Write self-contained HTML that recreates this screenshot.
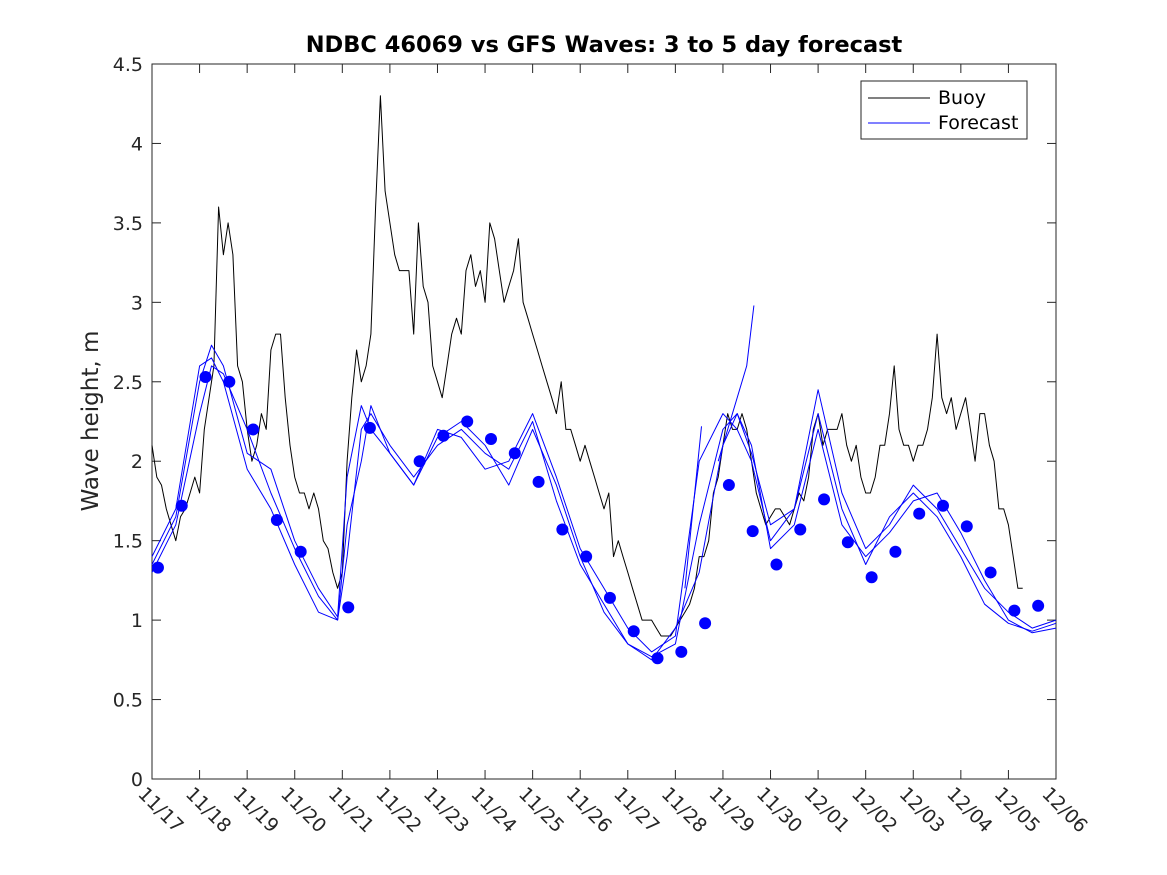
<!DOCTYPE html>
<html><head><meta charset="utf-8"><style>
html,body{margin:0;padding:0;background:#fff;}
svg{display:block;font-family:"DejaVu Sans","Liberation Sans",sans-serif;}
</style></head><body>
<svg id="chart" width="1167" height="875" viewBox="0 0 1167 875" xmlns="http://www.w3.org/2000/svg">
<rect x="0" y="0" width="1167" height="875" fill="#fff"/>
<text x="604" y="52" text-anchor="middle" font-size="22.5" font-weight="bold" fill="#000">NDBC 46069 vs GFS Waves: 3 to 5 day forecast</text>
<text transform="translate(98,421) rotate(-90)" text-anchor="middle" font-size="23" fill="#262626">Wave height, m</text>
<g id="plot"></g>
<g>
<rect x="861" y="81" width="166" height="58" fill="#fff" stroke="#262626" stroke-width="1"/>
<line x1="868" y1="98" x2="930" y2="98" stroke="#000" stroke-width="1"/>
<text x="938" y="104" font-size="19" fill="#000">Buoy</text>
<line x1="868" y1="123" x2="930" y2="123" stroke="#0000ff" stroke-width="1"/>
<text x="938" y="129" font-size="19" fill="#000">Forecast</text>
</g>
</svg>
<script>
const xLabels = ["11/17","11/18","11/19","11/20","11/21","11/22","11/23","11/24","11/25","11/26","11/27","11/28","11/29","11/30","12/01","12/02","12/03","12/04","12/05","12/06"];
const yTicks = [0,0.5,1,1.5,2,2.5,3,3.5,4,4.5];
const yTickLabels = ["0","0.5","1","1.5","2","2.5","3","3.5","4","4.5"];
const buoyStart = 0;
const buoyStep = 0.1;
const buoyValues = [2.1,1.9,1.85,1.7,1.6,1.5,1.65,1.7,1.8,1.9,
1.8,2.2,2.4,2.6,3.6,3.3,3.5,3.3,2.6,2.5,
2.2,2.0,2.1,2.3,2.2,2.7,2.8,2.8,2.4,2.1,
1.9,1.8,1.8,1.7,1.8,1.7,1.5,1.45,1.3,1.2,
1.3,2.0,2.4,2.7,2.5,2.6,2.8,3.6,4.3,3.7,
3.5,3.3,3.2,3.2,3.2,2.8,3.5,3.1,3.0,2.6,
2.5,2.4,2.6,2.8,2.9,2.8,3.2,3.3,3.1,3.2,
3.0,3.5,3.4,3.2,3.0,3.1,3.2,3.4,3.0,2.9,
2.8,2.7,2.6,2.5,2.4,2.3,2.5,2.2,2.2,2.1,
2.0,2.1,2.0,1.9,1.8,1.7,1.8,1.4,1.5,1.4,
1.3,1.2,1.1,1.0,1.0,1.0,0.95,0.9,0.9,0.9,
0.95,1.0,1.05,1.1,1.2,1.4,1.4,1.5,1.8,1.9,
2.1,2.3,2.2,2.2,2.3,2.2,2.0,1.8,1.7,1.6,
1.65,1.7,1.7,1.65,1.6,1.7,1.8,1.75,1.9,2.2,
2.3,2.1,2.2,2.2,2.2,2.3,2.1,2.0,2.1,1.9,
1.8,1.8,1.9,2.1,2.1,2.3,2.6,2.2,2.1,2.1,
2.0,2.1,2.1,2.2,2.4,2.8,2.4,2.3,2.4,2.2,
2.3,2.4,2.2,2.0,2.3,2.3,2.1,2.0,1.7,1.7,
1.6,1.4,1.2,1.2];
const fcTimes = [0,0.5,1,1.25,1.5,2,2.5,3,3.5,3.9,4.1,4.4,4.6,5.0,5.5,6.0,6.5,7.0,7.5,8.0,8.5,9.0,9.5,10.0,10.5,11.0,11.5,12.0,12.3,12.6,13.0,13.5,14.0,14.5,15.0,15.5,16.0,16.5,17.0,17.5,18.0,18.5,19.0];
const fc1 = [1.3,1.6,2.3,2.6,2.55,2.2,1.8,1.45,1.15,1.0,1.4,2.2,2.3,2.1,1.9,2.1,2.2,2.05,1.95,2.25,1.75,1.35,1.1,0.85,0.77,0.85,1.6,2.2,2.3,2.1,1.45,1.6,2.2,1.6,1.4,1.55,1.75,1.8,1.55,1.25,1.0,0.92,0.95];
const fc2 = [1.35,1.65,2.5,2.73,2.6,2.05,1.95,1.5,1.2,1.02,1.9,2.35,2.2,2.05,1.85,2.2,2.15,1.95,2.0,2.3,1.9,1.45,1.2,0.95,0.8,0.9,2.0,2.3,2.2,2.0,1.5,1.7,2.45,1.8,1.45,1.6,1.85,1.7,1.45,1.2,1.05,0.95,1.0];
const fc3 = [1.4,1.7,2.6,2.65,2.5,1.95,1.7,1.35,1.05,1.0,1.6,2.0,2.35,2.05,1.85,2.15,2.25,2.1,1.85,2.2,1.85,1.4,1.05,0.85,0.75,0.95,1.3,2.1,2.3,2.05,1.6,1.7,2.3,1.7,1.35,1.65,1.8,1.65,1.4,1.1,0.98,0.93,0.98];
const spikeATimes = [11.9,12.5,12.65];
const spikeAValues = [2.0,2.6,2.98];
const spikeBTimes = [11.2,11.55];
const spikeBValues = [1.2,2.22];
const dotTimes = [0.125,0.625,1.125,1.625,2.125,2.625,3.125,4.125,4.58,5.625,6.125,6.625,7.125,7.625,8.125,8.625,9.125,9.625,10.125,10.625,11.125,11.625,12.125,12.625,13.125,13.625,14.125,14.625,15.125,15.625,16.125,16.625,17.125,17.625,18.125,18.625];
const dotValues = [1.33,1.72,2.53,2.50,2.20,1.63,1.43,1.08,2.21,2.0,2.16,2.25,2.14,2.05,1.87,1.57,1.40,1.14,0.93,0.76,0.80,0.98,1.85,1.56,1.35,1.57,1.76,1.49,1.27,1.43,1.67,1.72,1.59,1.30,1.06,1.09];

const X0=152,X1=1056,Y0=779,Y1=64,DAYS=19,YMAX=4.5;
const xs=t=>X0+(X1-X0)*t/DAYS;
const ys=v=>Y0-(Y0-Y1)*v/YMAX;
const NS="http://www.w3.org/2000/svg";
const plot=document.getElementById('plot');
function mk(tag,attrs,parent){const e=document.createElementNS(NS,tag);for(const k in attrs)e.setAttribute(k,attrs[k]);(parent||plot).appendChild(e);return e;}

const box=mk('rect',{x:X0,y:Y1,width:X1-X0,height:Y0-Y1,fill:'none',stroke:'#262626','stroke-width':1});



yTicks.forEach((v,i)=>{
  const y=ys(v);
  const t1=mk('line',{x1:X0,y1:y,x2:X0+9,y2:y,stroke:'#262626'});
  
  
  const t2=mk('line',{x1:X1,y1:y,x2:X1-9,y2:y,stroke:'#262626'});
  
  
  const tx=mk('text',{x:X0-9,y:y+7,'text-anchor':'end','font-size':19,fill:'#262626'});
  tx.textContent=yTickLabels[i];
  
  
});
xLabels.forEach((l,i)=>{
  const x=xs(i);
  const t1=mk('line',{x1:x,y1:Y0,x2:x,y2:Y0-9,stroke:'#262626'});
  
  
  const t2=mk('line',{x1:x,y1:Y1,x2:x,y2:Y1+9,stroke:'#262626'});
  
  
  const tx=mk('text',{transform:`translate(${x-15},${Y0+16}) rotate(45)`,'font-size':19,fill:'#262626'});
  tx.textContent=l;
  
  
});

function path(ts,vs,color,name){
  const d=ts.map((t,i)=>(i?'L':'M')+xs(t).toFixed(1)+' '+ys(vs[i]).toFixed(1)).join(' ');
  const p=mk('path',{d:d,fill:'none',stroke:color,'stroke-width':1,'stroke-linejoin':'round'});
  
  
}
const buoyTimes=buoyValues.map((v,i)=>buoyStart+i*buoyStep);
path(buoyTimes,buoyValues,'#000','buoy-line');
path(fcTimes,fc1,'#0000ff','forecast-line-1');
path(fcTimes,fc2,'#0000ff','forecast-line-2');
path(fcTimes,fc3,'#0000ff','forecast-line-3');
path(spikeATimes,spikeAValues,'#0000ff','forecast-spike-a');
path(spikeBTimes,spikeBValues,'#0000ff','forecast-spike-b');
dotTimes.forEach((t,i)=>{
  const c=mk('circle',{cx:xs(t),cy:ys(dotValues[i]),r:6,fill:'#0000ff'});
  
  
});
</script>
</body></html>
